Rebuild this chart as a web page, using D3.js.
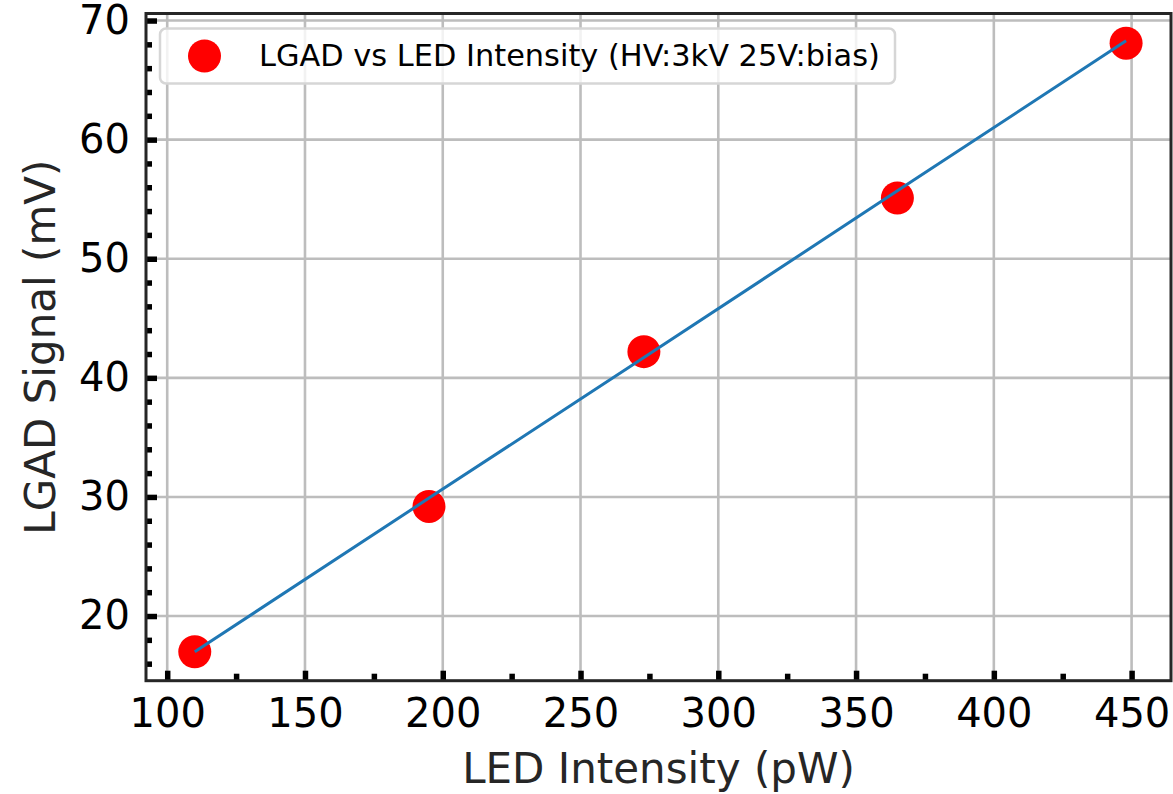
<!DOCTYPE html>
<html>
<head>
<meta charset="utf-8">
<script src="https://cdn.jsdelivr.net/npm/d3@7"></script>
<style>
  html, body { margin: 0; padding: 0; background: #fff; }
  svg { display: block; font-family: "DejaVu Sans", sans-serif; }
</style>
</head>
<body>
<svg id="chart" width="1173" height="794"></svg>
<script>
// data
const ledIntensity = [110, 195, 273, 365, 448];       // pW
const lgadSignal = [17.0, 29.2, 42.2, 55.1, 68.1];    // mV
const fitSignal = [17.0, 29.9, 41.7, 55.7, 68.3];     // linear fit, mV
const xTicks = [100, 150, 200, 250, 300, 350, 400, 450];
const yTicks = [20, 30, 40, 50, 60, 70];
const legendLabel = 'LGAD vs LED Intensity (HV:3kV 25V:bias)';

const svg = d3.select('#chart');
const box = { left: 146, right: 1171, top: 13.5, bottom: 680.7 };

const x = d3.scaleLinear().domain([92.3, 464.3]).range([box.left, box.right]);
const y = d3.scaleLinear().domain([14.57, 70.59]).range([box.bottom, box.top]);

// grid
const grid = svg.append('g').attr('stroke', '#bdbdbd').attr('stroke-width', 2.6);
grid.selectAll('.gx').data(xTicks).join('line')
  .attr('x1', d => x(d)).attr('x2', d => x(d))
  .attr('y1', box.top).attr('y2', box.bottom);
grid.selectAll('.gy').data(yTicks).join('line')
  .attr('x1', box.left).attr('x2', box.right)
  .attr('y1', d => y(d)).attr('y2', d => y(d));

// data points
svg.append('g').selectAll('circle')
  .data(ledIntensity.map((v, i) => [v, lgadSignal[i]]))
  .join('circle')
  .attr('cx', d => x(d[0]))
  .attr('cy', d => y(d[1]))
  .attr('r', 16.5)
  .attr('fill', '#ff0000');

// fit line, drawn on top of the points
svg.append('path')
  .datum(ledIntensity.map((v, i) => [v, fitSignal[i]]))
  .attr('fill', 'none')
  .attr('stroke', '#1f77b4')
  .attr('stroke-width', 3)
  .attr('d', d3.line().x(d => x(d[0])).y(d => y(d[1])));

// axes with inward ticks
const xAxis = svg.append('g').attr('transform', `translate(0,${box.bottom})`)
  .call(d3.axisBottom(x).tickValues(xTicks).tickSize(-10).tickPadding(18));
const xMinor = svg.append('g').attr('transform', `translate(0,${box.bottom})`)
  .call(d3.axisBottom(x).tickValues(d3.range(125, 464, 50)).tickSize(-7).tickFormat(''));
const yAxis = svg.append('g').attr('transform', `translate(${box.left},0)`)
  .call(d3.axisLeft(y).tickValues(yTicks).tickSize(-11).tickPadding(16));
const yMinor = svg.append('g').attr('transform', `translate(${box.left},0)`)
  .call(d3.axisLeft(y).tickValues(d3.range(16, 71, 2).filter(v => v % 10 !== 0)).tickSize(-6).tickFormat(''));

for (const g of [xAxis, xMinor, yAxis, yMinor]) {
  g.select('.domain').remove();
  g.selectAll('.tick line').attr('stroke', '#000').attr('stroke-width', 5.5);
}
xAxis.selectAll('.tick text')
  .attr('font-size', 40).attr('fill', '#000').attr('font-family', 'DejaVu Sans');
yAxis.selectAll('.tick text')
  .attr('font-size', 40).attr('fill', '#000').attr('font-family', 'DejaVu Sans');

// spines
svg.append('rect')
  .attr('x', box.left).attr('y', box.top)
  .attr('width', box.right - box.left).attr('height', box.bottom - box.top)
  .attr('fill', 'none').attr('stroke', '#262626').attr('stroke-width', 3);

// axis labels
svg.append('text')
  .attr('x', (box.left + box.right) / 2).attr('y', 783)
  .attr('text-anchor', 'middle').attr('font-size', 42).attr('fill', '#262626')
  .text('LED Intensity (pW)');
svg.append('text')
  .attr('transform', `translate(55,${(box.top + box.bottom) / 2}) rotate(-90)`)
  .attr('text-anchor', 'middle').attr('font-size', 42).attr('fill', '#262626')
  .text('LGAD Signal (mV)');

// legend
const legend = svg.append('g');
legend.append('rect')
  .attr('x', 160).attr('y', 28.5).attr('width', 735).attr('height', 55).attr('rx', 6)
  .attr('fill', '#fff').attr('fill-opacity', 0.8)
  .attr('stroke', '#d6d6d6').attr('stroke-width', 2.5);
legend.append('circle')
  .attr('cx', 204.5).attr('cy', 56).attr('r', 16.5).attr('fill', '#ff0000');
legend.append('text')
  .attr('x', 259).attr('y', 66).attr('font-size', 30.4).attr('fill', '#000')
  .text(legendLabel);
</script>
</body>
</html>
